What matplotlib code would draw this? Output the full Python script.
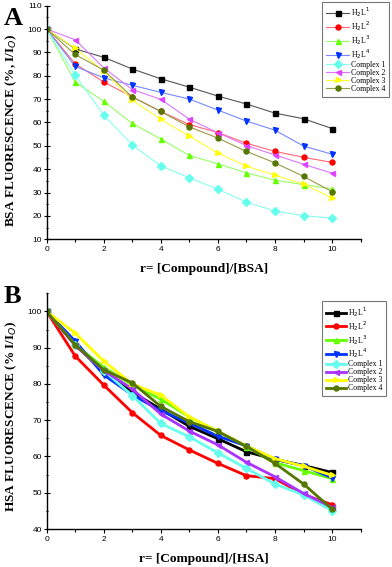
import numpy as np
import matplotlib
matplotlib.use('Agg')
import matplotlib.pyplot as plt
from matplotlib.ticker import MultipleLocator

# r = [compuesto]/[proteína]
r = list(range(11))

nombres = ['H$_2$L$^1$', 'H$_2$L$^2$', 'H$_2$L$^3$', 'H$_2$L$^4$',
           'Complex 1', 'Complex 2', 'Complex 3', 'Complex 4']

# Panel A: BSA
bsa_h2l1 = [100, 91.5, 87.9, 82.9, 78.7, 75.1, 71.3, 67.9, 64.0, 61.6, 57.4]
bsa_h2l2 = [100, 85.1, 77.3, 71.0, 64.7, 59.1, 55.7, 51.1, 47.6, 45.1, 42.9]
bsa_h2l3 = [100, 77.3, 69.0, 59.6, 52.9, 45.9, 42.3, 38.4, 35.3, 33.4, 31.6]
bsa_h2l4 = [100, 84.0, 79.1, 75.9, 72.9, 70.0, 65.3, 60.6, 56.7, 49.9, 46.4]
bsa_c1 = [100, 80.3, 63.1, 50.4, 41.4, 36.3, 31.4, 25.9, 22.1, 20.1, 19.1]
bsa_c2 = [100, 95.4, 83.4, 74.1, 69.9, 61.4, 55.6, 50.1, 46.1, 42.1, 38.3]
bsa_c3 = [100, 91.7, 82.0, 69.6, 61.3, 54.1, 46.9, 41.3, 37.4, 33.6, 27.7]
bsa_c4 = [100, 89.1, 82.4, 70.9, 64.7, 58.1, 53.3, 47.6, 42.7, 36.9, 30.4]

# Panel B: HSA
hsa_h2l1 = [100, 90.8, 83.3, 77.8, 73.0, 68.3, 64.9, 61.3, 59.2, 57.5, 55.6]
hsa_h2l2 = [100, 87.7, 79.7, 72.1, 65.8, 61.8, 58.1, 54.7, 53.9, 49.5, 46.7]
hsa_h2l3 = [100, 90.8, 84.6, 79.7, 75.8, 70.9, 66.9, 62.7, 58.3, 56.1, 53.9]
hsa_h2l4 = [100, 91.8, 82.5, 77.0, 72.6, 69.2, 65.6, 62.9, 59.2, 57.5, 54.1]
hsa_c1 = [100, 90.8, 83.7, 76.8, 69.1, 65.4, 61.0, 56.7, 52.4, 49.4, 45.1]
hsa_c2 = [100, 90.6, 83.7, 78.6, 71.7, 67.0, 63.2, 58.4, 54.4, 49.8, 46.0]
hsa_c3 = [100, 94.0, 86.3, 80.0, 76.9, 70.9, 66.9, 62.9, 59.4, 57.3, 54.8]
hsa_c4 = [100, 90.8, 83.9, 80.3, 73.8, 69.6, 66.9, 62.8, 58.1, 52.4, 45.5]

marcadores = ['s', 'o', '^', 'v', 'D', '<', '>', 'o']
colores_a = ['#000000', '#ff0000', '#66ff00', '#0033ff', '#66ffee', '#dd44ff', '#ffff00', '#557700']
lineas_a = ['#555555', '#ff6677', '#99ff66', '#7788ff', '#88ffee', '#dd77ff', '#ffff33', '#999944']
colores_b = ['#000000', '#ff0000', '#66ff00', '#0033ff', '#66ffee', '#aa33ff', '#ffff00', '#557700']

SERIF = 'Liberation Serif'
SANS = 'Liberation Sans'

fig = plt.figure(figsize=(3.92, 5.67), dpi=100)


def estilo_ejes(ax, ymin, ymax, xlabel, ylabel, ylab_y):
    ax.set_xlim(0, 11)
    ax.set_ylim(ymin, ymax)
    ax.spines['top'].set_visible(False)
    ax.spines['right'].set_visible(False)
    ax.spines['left'].set_linewidth(1.0)
    ax.spines['bottom'].set_linewidth(1.0)
    ax.xaxis.set_major_locator(MultipleLocator(2))
    ax.xaxis.set_minor_locator(MultipleLocator(1))
    ax.yaxis.set_major_locator(MultipleLocator(10))
    ax.yaxis.set_minor_locator(MultipleLocator(5))
    ax.set_xticks([0, 2, 4, 6, 8, 10])
    ax.tick_params(axis='x', which='major', direction='out', length=3, width=0.8, labelsize=6, pad=2)
    ax.tick_params(axis='x', which='minor', direction='out', length=2, width=0.8)
    ax.tick_params(axis='y', which='major', direction='inout', length=4, width=0.8, labelsize=6, pad=1.5)
    ax.tick_params(axis='y', which='minor', direction='inout', length=2, width=0.8)
    for t in ax.get_xticklabels() + ax.get_yticklabels():
        t.set_fontfamily(SANS)
    ax.set_xlabel(xlabel, fontsize=9.6, fontweight='bold', family=SERIF, labelpad=7)
    ax.set_ylabel(ylabel, fontsize=9.5, fontweight='bold', family=SERIF)
    ax.yaxis.set_label_coords(-0.088, ylab_y)


def leyenda(ax, y_top, hl):
    leg = ax.legend(loc='upper left', bbox_to_anchor=(322 / 392, 1 - y_top / 567),
                    bbox_transform=fig.transFigure, prop={'family': SERIF, 'size': 5.6},
                    frameon=True, fancybox=False, edgecolor='#555555', handlelength=hl,
                    handletextpad=0.2, labelspacing=0.0, borderpad=0.5, borderaxespad=0)
    leg.get_frame().set_linewidth(0.8)
    return leg


# Panel A
ax1 = fig.add_axes([0.119, 0.578, 0.801, 0.412])
series_a = [bsa_h2l1, bsa_h2l2, bsa_h2l3, bsa_h2l4, bsa_c1, bsa_c2, bsa_c3, bsa_c4]
for ys, nombre, m, c, lc in zip(series_a, nombres, marcadores, colores_a, lineas_a):
    ax1.plot(r, ys, color=lc, linewidth=0.8, marker=m, markersize=3.6,
             markerfacecolor=c, markeredgecolor=c, label=nombre)
estilo_ejes(ax1, 10, 110, 'r= [Compound]/[BSA]', 'BSA FLUORESCENCE (%, I/I$_O$)', 0.465)
leyenda(ax1, 1.5, 3.0)
fig.text(0.01, 0.988, 'A', fontsize=19, fontweight='bold', family=SERIF, va='top')

# Panel B
ax2 = fig.add_axes([0.119, 0.067, 0.801, 0.4157])
series_b = [hsa_h2l1, hsa_h2l2, hsa_h2l3, hsa_h2l4, hsa_c1, hsa_c2, hsa_c3, hsa_c4]
for ys, nombre, m, c in zip(series_b, nombres, marcadores, colores_b):
    ax2.plot(r, ys, color=c, linewidth=2.0, marker=m, markersize=3.6,
             markerfacecolor=c, markeredgecolor=c, label=nombre)
estilo_ejes(ax2, 40, 105, 'r= [Compound]/[HSA]', 'HSA FLUORESCENCE (% I/I$_O$)', 0.477)
leyenda(ax2, 301, 2.6)
fig.text(0.01, 0.497, 'B', fontsize=19, fontweight='bold', family=SERIF, va='top')

fig.savefig('out.png', dpi=100)
